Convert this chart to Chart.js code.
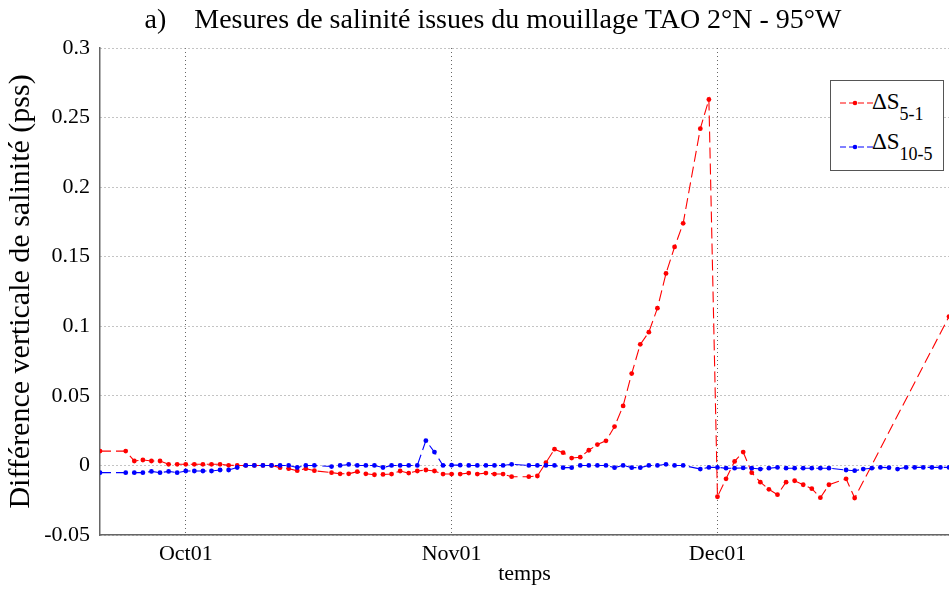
<!DOCTYPE html>
<html>
<head>
<meta charset="utf-8">
<script src="https://cdn.jsdelivr.net/npm/chart.js@4.4.1/dist/chart.umd.min.js"></script>
<style>
  body { margin: 0; background: #fff; }
  #wrap { position: relative; width: 949px; height: 589px; font-family: 'Liberation Serif', 'Times New Roman', serif; color: #000; }
  #titre { position: absolute; left: 0; top: 5px; width: 986px; text-align: center; font-size: 28px; line-height: 1; white-space: pre; }
  #legende { position: absolute; left: 830px; top: 80px; width: 114px; height: 91px; border: 1.5px solid #555; background: #fff; box-sizing: border-box; }
  #legende svg { position: absolute; left: 9px; }
  #legende .txt { position: absolute; left: 41px; font-size: 23px; line-height: 1; white-space: nowrap; }
  #legende sub { font-size: 18px; vertical-align: -11px; line-height: 1; }
</style>
</head>
<body>
<div id="wrap">
  <canvas id="graph" width="949" height="589"></canvas>
  <div id="titre">a)    Mesures de salinité issues du mouillage TAO 2°N - 95°W</div>
  <div id="legende">
    <svg style="top:16px" width="34" height="12"><line x1="0" y1="6" x2="34" y2="6" stroke="#ff0000" stroke-width="1" stroke-dasharray="6,3"/><circle cx="15" cy="6" r="2.3" fill="#ff0000"/></svg>
    <div class="txt" style="top:9px">ΔS<sub>5-1</sub></div>
    <svg style="top:60px" width="34" height="12"><line x1="0" y1="6" x2="34" y2="6" stroke="#0000ff" stroke-width="1" stroke-dasharray="6,3"/><circle cx="15" cy="6" r="2.3" fill="#0000ff"/></svg>
    <div class="txt" style="top:49px">ΔS<sub>10-5</sub></div>
  </div>
</div>
<script>
// jours depuis le 1er octobre (mouillage TAO 2N-95W)
const jours = Array.from({ length: 100 }, (_, i) => i - 10);

// ΔS 5-1 (pss), null = pas de mesure
const dS51 = [
    0.0103, null, null, 0.0103, 0.0032, 0.0039, 0.0032, 0.0032, 0.0008, 0.0008,
    0.0008, 0.0008, 0.0008, 0.0008, 0.0008, 0.0001, 0, 0, 0, 0,
    0, -0.0016, -0.0023, -0.0038, -0.0023, -0.0038, null, -0.0052, -0.006, -0.006,
    -0.0045, -0.006, -0.0067, -0.0065, -0.0062, -0.004, -0.0055, -0.004, -0.0033, -0.004,
    -0.0062, -0.0062, -0.0062, -0.0055, -0.0062, -0.0055, -0.0062, -0.0062, -0.0081, null,
    -0.0081, -0.0076, 0.002, 0.0117, 0.0092, 0.0053, 0.0059, 0.0109, 0.015, 0.0177,
    0.0279, 0.0428, 0.066, 0.087, 0.0958, 0.113, 0.138, 0.157, 0.174, null,
    0.242, 0.263, -0.0225, -0.0096, 0.0029, 0.0096, -0.0052, -0.012, -0.0172, -0.021,
    -0.012, -0.011, -0.0139, -0.0167, -0.0232, -0.0139, null, -0.0096, -0.0234, null,
    null, null, null, null, null, null, null, null, null, 0.107
];

// ΔS 10-5 (pss)
const dS105 = [
    -0.0052, null, null, -0.0052, -0.0052, -0.0052, -0.0043, -0.0052, -0.0043, -0.0052,
    -0.004, -0.004, -0.004, -0.004, -0.0033, -0.0033, -0.0015, 0, 0, 0,
    0, 0, 0, -0.0015, 0, 0, null, -0.0008, 0, 0.0007,
    0, 0, 0, -0.0015, 0, 0, 0, 0, 0.0178, 0.0096,
    0, 0.0002, 0.0002, 0, 0, 0, 0, 0, 0.0008, null,
    0, 0, 0, 0, -0.0016, -0.0016, 0, 0, 0, 0,
    -0.0016, 0, -0.0016, -0.0016, 0, 0, 0.0008, 0, 0, null,
    -0.0026, -0.0014, -0.0014, -0.002, -0.002, -0.0018, -0.002, -0.0026, -0.002, -0.0014,
    -0.002, -0.002, -0.002, -0.002, -0.002, -0.002, null, -0.0033, -0.0038, -0.0026,
    -0.002, -0.0014, -0.0016, -0.0026, -0.0014, -0.0014, -0.0014, -0.0014, -0.0014, -0.0014
];

const tickJours = [0, 31, 62];
const tickLabels = ['Oct01', 'Nov01', 'Dec01'];

const serif = 'Liberation Serif';

function serie(values, color, order) {
    return {
        data: jours.map((j, i) => ({ x: j, y: values[i] })),
        borderColor: color,
        backgroundColor: color,
        borderWidth: 1.1,
        borderDash: [11, 5],
        pointRadius: 2.4,
        pointBorderWidth: 0,
        pointStyle: 'circle',
        spanGaps: true,
        tension: 0,
        clip: 0,
        order: order
    };
}

const ctx = document.getElementById('graph').getContext('2d');

new Chart(ctx, {
    type: 'line',
    data: {
        datasets: [
            serie(dS51, '#ff0000', 1),
            serie(dS105, '#0000ff', 0)
        ]
    },
    options: {
        responsive: false,
        animation: false,
        layout: { autoPadding: false, padding: { top: 48, right: 0, left: 0, bottom: 0 } },
        plugins: {
            legend: { display: false },
            tooltip: { enabled: false },
            title: { display: false }
        },
        scales: {
            x: {
                type: 'linear',
                min: -10,
                max: 89,
                afterBuildTicks: (scale) => {
                    scale.ticks = tickJours.map(v => ({ value: v }));
                },
                afterFit: (scale) => { scale.height = 54; },
                ticks: {
                    callback: (v) => tickLabels[tickJours.indexOf(v)],
                    font: { family: serif, size: 22 },
                    color: '#000',
                    padding: 6,
                    maxRotation: 0
                },
                grid: { color: '#666', lineWidth: 1, drawTicks: false },
                border: { color: '#666', width: 1.5, dash: [1, 3] },
                title: {
                    display: true,
                    text: 'temps',
                    font: { family: serif, size: 22 },
                    color: '#000',
                    padding: { top: 0, bottom: 2 }
                }
            },
            y: {
                min: -0.05,
                max: 0.3,
                afterFit: (scale) => { scale.width = 100; },
                ticks: {
                    stepSize: 0.05,
                    callback: (v) => String(+v.toFixed(2)),
                    font: { family: serif, size: 22 },
                    color: '#000',
                    padding: 10
                },
                grid: { color: '#888', lineWidth: 1, drawTicks: false },
                border: { color: '#666', width: 1.5, dash: [1, 3] },
                title: {
                    display: true,
                    text: 'Différence verticale de salinité (pss)',
                    font: { family: serif, size: 30 },
                    color: '#000',
                    padding: { top: 3, bottom: 0 }
                }
            }
        }
    }
});
</script>
</body>
</html>
